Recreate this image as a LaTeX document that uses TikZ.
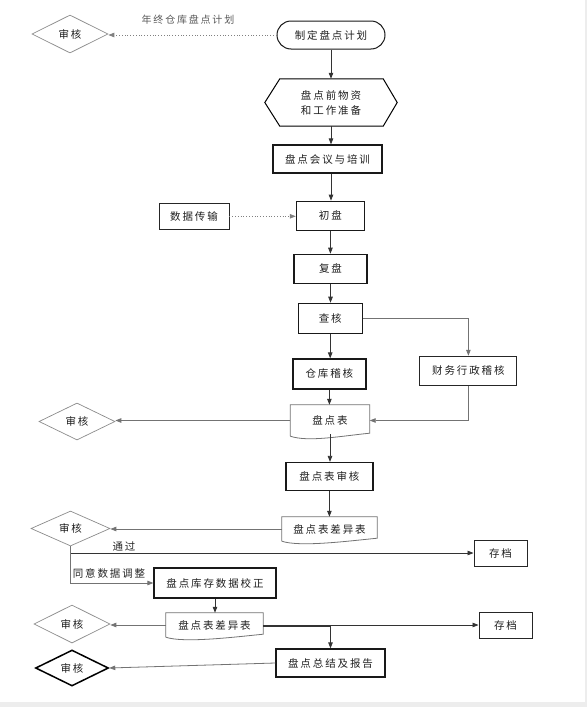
\documentclass[tikz,border=0pt]{standalone}
\usepackage{fontspec}
\newfontfamily\cjk[LetterSpace=18]{Noto Sans CJK SC}
\usetikzlibrary{arrows.meta,shapes.geometric,calc}
\newcommand\docpath[1]{\draw[docline] (#1.south west) -- (#1.north west) -- (#1.north east) -- ([yshift=3pt]#1.south east) .. controls +(-30,3) and +(18,6) .. (#1.south west);}
\begin{document}
\begin{tikzpicture}[x=1pt,y=-1pt,
  txt/.style={font=\cjk\fontsize{10.5}{15}\selectfont, text=black!88},
  box/.style={txt, draw=black!90, line width=1.2pt, inner sep=0pt},
  thinbox/.style={txt, draw=black!85, line width=0.9pt, inner sep=0pt},
  dia/.style={txt, diamond, draw=black!45, line width=0.7pt, inner sep=0pt, aspect=2},
  docn/.style={txt, inner sep=0pt},
  docline/.style={draw=black!55, line width=0.8pt},
  conn/.style={draw=black!80, line width=0.8pt, -{Triangle[length=6pt,width=4.5pt]}},
  gconn/.style={conn, draw=black!55},
  dotconn/.style={conn, draw=black!50, dotted},
  lbl/.style={font=\cjk\fontsize{10.5}{12}\selectfont, text=black!85, inner sep=0pt}
]
\fill[white] (0,0) rectangle (587,707);
\fill[black!7] (585,0) rectangle (587,707);
\fill[black!7] (0,702) rectangle (587,707);
\useasboundingbox (0,0) rectangle (587,707);

\node[box, line width=1pt, rounded corners=14pt, minimum width=108pt, minimum height=28pt] (plan) at (331,35) {制定盘点计划};
\node[dia, minimum width=76pt, minimum height=38pt] (d1) at (70,34) {审核};
\node[lbl, font=\cjk\fontsize{10}{12}\selectfont, text=black!65] (lab1) at (188,20) {年终仓库盘点计划};
\node[txt, align=center, minimum width=132pt, minimum height=47pt, inner sep=0pt] (hex) at (331,102.5) {盘点前物资\\和工作准备};
\draw[black, line width=1pt] ([xshift=15pt]hex.north west) -- ([xshift=-14pt]hex.north east) -- (hex.east) -- ([xshift=-14pt]hex.south east) -- ([xshift=15pt]hex.south west) -- (hex.west) -- cycle;
\node[box, minimum width=109pt, minimum height=28pt] (meet) at (327.5,159) {盘点会议与培训};
\node[thinbox, minimum width=70pt, minimum height=26pt] (data) at (194,216.3) {数据传输};
\node[box, minimum width=68pt, minimum height=29pt] (first) at (330.4,215.7) {初盘};
\node[box, minimum width=73pt, minimum height=29pt] (second) at (330.5,268.8) {复盘};
\node[box, minimum width=64pt, minimum height=30pt] (check) at (330.2,318.3) {查核};
\node[box, minimum width=73pt, minimum height=30pt] (wh) at (329.4,374) {仓库稽核};
\node[thinbox, minimum width=97pt, minimum height=29pt] (fin) at (468.4,370.7) {财务行政稽核};
\node[docn, minimum width=79pt, minimum height=31pt] (tbl) at (330,420.5) {盘点表};
\node[dia, minimum width=76pt, minimum height=37pt] (d2) at (77,421.5) {审核};
\node[box, minimum width=87pt, minimum height=28pt] (rev) at (329.4,476.5) {盘点表审核};
\node[docn, minimum width=95pt, minimum height=24pt] (diff1) at (329.5,529) {盘点表差异表};
\node[dia, minimum width=79pt, minimum height=35pt] (d3) at (70.5,528.5) {审核};
\node[thinbox, minimum width=53pt, minimum height=26pt] (arch1) at (500.5,553) {存档};
\node[box, minimum width=122pt, minimum height=30pt] (fix) at (215,583) {盘点库存数据校正};
\node[docn, minimum width=97pt, minimum height=24pt] (diff2) at (214.5,625) {盘点表差异表};
\node[dia, minimum width=76pt, minimum height=38pt] (d4) at (72,624) {审核};
\node[thinbox, minimum width=53pt, minimum height=26pt] (arch2) at (505.5,625) {存档};
\node[box, minimum width=109pt, minimum height=28pt] (sum) at (330.5,663) {盘点总结及报告};
\node[dia, draw=black, line width=1.5pt, minimum width=73pt, minimum height=36pt] (d5) at (72,668) {审核};

\docpath{tbl}
\docpath{diff1}
\docpath{diff2}

\draw[dotconn] (plan.west) -- (plan.west -| d1.east);
\draw[conn] (plan.south) -- (hex.north);
\draw[conn] (hex.south) -- (hex.south |- meet.north);
\draw[conn] (hex.south |- meet.south) -- (hex.south |- first.north);
\draw[dotconn] (data.east) -- (data.east -| first.west);
\draw[conn] (first.south) -- (first.south |- second.north);
\draw[conn] (second.south) -- (second.south |- check.north);
\draw[conn] (check.south) -- (check.south |- wh.north);
\draw[gconn] (check.east) -| (fin.north);
\draw[conn] (wh.south) -- (wh.south |- tbl.north);
\draw[gconn] (fin.south) |- (tbl.east);
\draw[gconn] (tbl.west) -- (tbl.west -| d2.east);
\draw[conn] ([yshift=2pt]tbl.south) -- (tbl.south |- rev.north);
\draw[conn] (rev.south) -- (rev.south |- diff1.north);
\draw[gconn] (diff1.west) -- (diff1.west -| d3.east);
\draw[conn] (d3.south) |- (arch1.west);
\node[lbl] (passlbl) at (124,546.5) {通过};
\draw[gconn] (d3.south) |- (fix.west);
\node[lbl] (adjlbl) at (109,573) {同意数据调整};
\draw[conn] (fix.south) -- (fix.south |- diff2.north);
\draw[gconn] (diff2.west) -- (diff2.west -| d4.east);
\draw[conn] (diff2.east) -- (diff2.east -| arch2.west);
\draw[conn] ([yshift=-1.2pt]diff2.east) -| (sum.north);
\draw[gconn] (sum.west) -- (d5.east);
\end{tikzpicture}
\end{document}
